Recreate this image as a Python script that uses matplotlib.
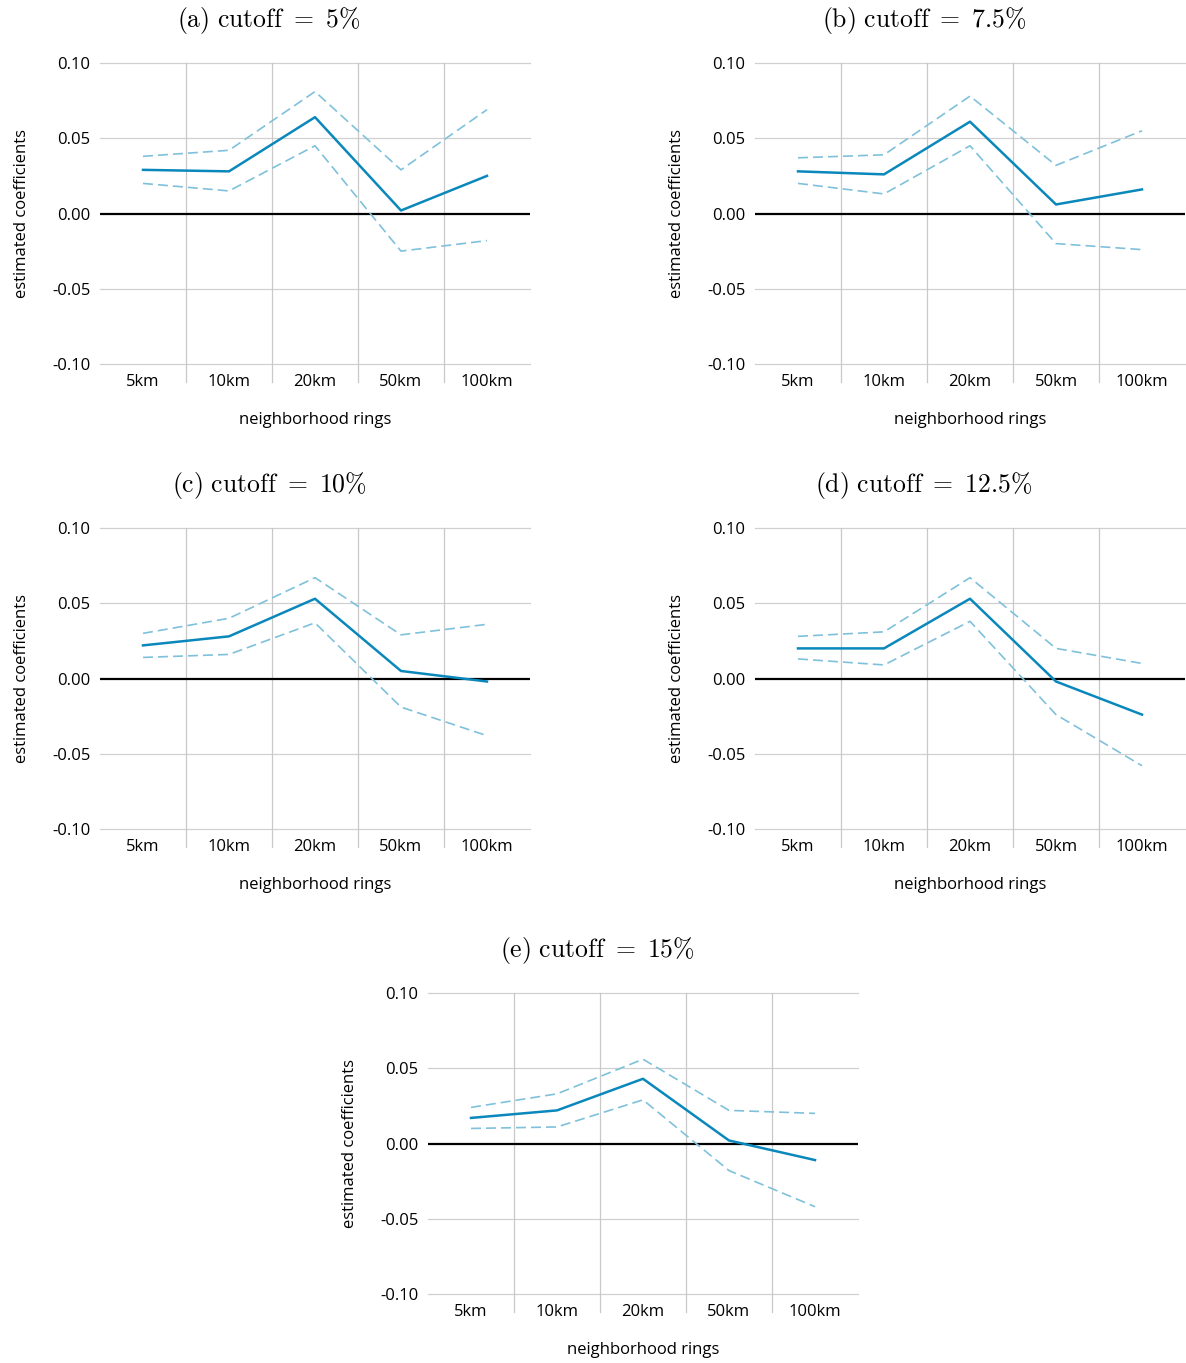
import numpy as np
import matplotlib
matplotlib.use('Agg')
import matplotlib.pyplot as plt

plt.rcParams['font.family'] = ['Open Sans', 'DejaVu Sans']
plt.rcParams['mathtext.fontset'] = 'cm'

rings = ['5km', '10km', '20km', '50km', '100km']
titles = [r'$\mathrm{(a)\ cutoff\ =\ 5\%}$', r'$\mathrm{(b)\ cutoff\ =\ 7.5\%}$',
          r'$\mathrm{(c)\ cutoff\ =\ 10\%}$', r'$\mathrm{(d)\ cutoff\ =\ 12.5\%}$',
          r'$\mathrm{(e)\ cutoff\ =\ 15\%}$']

coef_a = [0.029, 0.028, 0.064, 0.002, 0.025]
upper_a = [0.038, 0.042, 0.081, 0.029, 0.069]
lower_a = [0.020, 0.015, 0.045, -0.025, -0.018]

coef_b = [0.028, 0.026, 0.061, 0.006, 0.016]
upper_b = [0.037, 0.039, 0.078, 0.032, 0.055]
lower_b = [0.020, 0.013, 0.045, -0.020, -0.024]

coef_c = [0.022, 0.028, 0.053, 0.005, -0.002]
upper_c = [0.030, 0.040, 0.067, 0.029, 0.036]
lower_c = [0.014, 0.016, 0.037, -0.019, -0.038]

coef_d = [0.020, 0.020, 0.053, -0.002, -0.024]
upper_d = [0.028, 0.031, 0.067, 0.020, 0.010]
lower_d = [0.013, 0.009, 0.038, -0.024, -0.058]

coef_e = [0.017, 0.022, 0.043, 0.002, -0.011]
upper_e = [0.024, 0.033, 0.056, 0.022, 0.020]
lower_e = [0.010, 0.011, 0.029, -0.018, -0.042]

panels = [(coef_a, upper_a, lower_a), (coef_b, upper_b, lower_b),
          (coef_c, upper_c, lower_c), (coef_d, upper_d, lower_d),
          (coef_e, upper_e, lower_e)]

# axes positions in pixels: left, top
W, H = 1186, 1363
pos = [(100, 63), (755, 63), (100, 528), (755, 528), (428, 993)]
aw, ah = 430, 301

fig = plt.figure(figsize=(W / 100, H / 100), dpi=100)
fig.patch.set_facecolor('white')

x = np.arange(len(rings))
for (left, top), (c, u, l), t in zip(pos, panels, titles):
    ax = fig.add_axes([left / W, 1 - (top + ah) / H, aw / W, ah / H])
    for yv in [0.10, 0.05, -0.05, -0.10]:
        ax.axhline(yv, color='#d0d0d0', lw=0.9, zorder=0, clip_on=False)
    for xv in [0.5, 1.5, 2.5, 3.5]:
        ax.plot([xv, xv], [0.10, -0.112], color='#c8c8c8', lw=0.9, zorder=0, clip_on=False)
    ax.axhline(0, color='black', lw=1.6, zorder=1)
    ax.plot(x, u, color='#7fc1db', lw=1.2, ls=(0, (6, 3)))
    ax.plot(x, l, color='#7fc1db', lw=1.2, ls=(0, (6, 3)))
    ax.plot(x, c, color='#0a88bb', lw=1.8)
    ax.set_xlim(-0.5, 4.5)
    ax.set_ylim(-0.10, 0.10)
    ax.set_xticks(x)
    ax.set_xticklabels(rings, fontsize=12)
    ax.set_yticks([0.10, 0.05, 0.0, -0.05, -0.10])
    ax.set_yticklabels(['0.10', '0.05', '0.00', '-0.05', '-0.10'], fontsize=12)
    ax.tick_params(length=0, pad=7)
    for s in ax.spines.values():
        s.set_visible(False)
    ax.set_xlabel('neighborhood rings', fontsize=12, labelpad=16)
    ax.set_ylabel('estimated coefficients', fontsize=12, labelpad=16)
    cx = (left - 92 + left + aw) / 2
    fig.text(cx / W, 1 - (top - 43) / H, t, fontsize=18.5, ha='center', va='center')

fig.savefig('out.png', dpi=100)
